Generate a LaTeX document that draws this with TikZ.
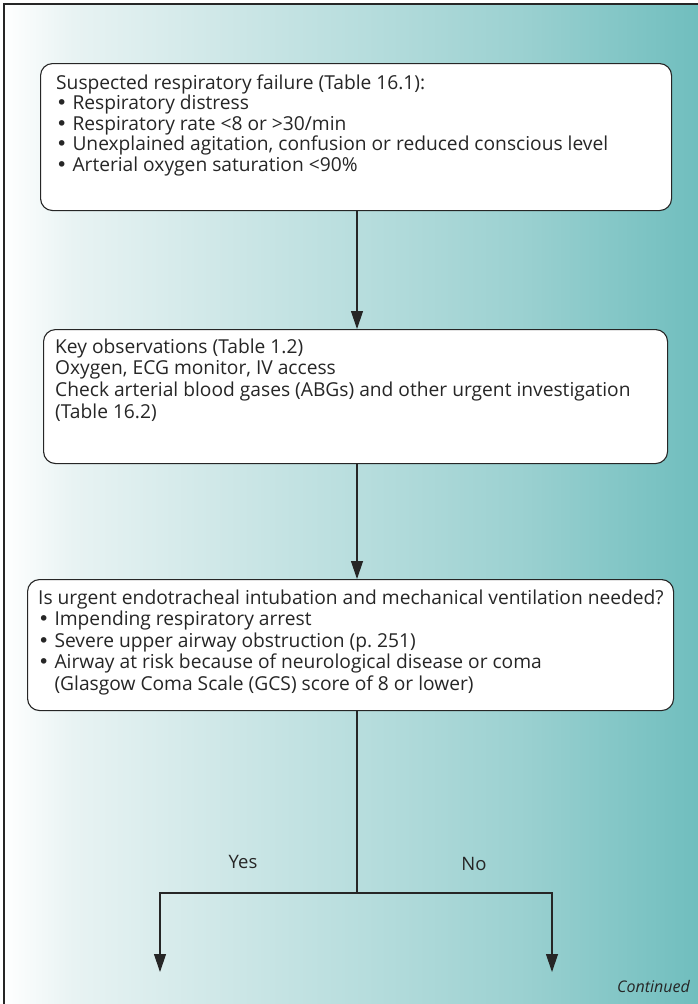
\documentclass[tikz,border=0pt]{standalone}
\usepackage{fontspec}
\setmainfont{Open Sans}
\newfontfamily\symfont{DejaVu Sans}
\usetikzlibrary{arrows.meta}

% background wash: white on the left fading into teal on the right
\pgfdeclarehorizontalshading{wash}{100bp}{%
  color(0bp)=(white);
  color(25bp)=(white);
  color(30bp)=(rgb,255:red,232;green,243;blue,243);
  color(40bp)=(rgb,255:red,208;green,232;blue,232);
  color(50bp)=(rgb,255:red,185;green,222;blue,222);
  color(62bp)=(rgb,255:red,156;green,209;blue,209);
  color(75bp)=(rgb,255:red,112;green,190;blue,190);
  color(100bp)=(rgb,255:red,112;green,190;blue,190)}

\tikzset{
  stepbox/.style={draw=black!85, line width=1.1pt, fill=white,
    rounded corners=12pt, inner sep=0pt, anchor=north west},
  boxtext/.style={inner sep=0pt, anchor=base west, text=black!85},
  flow/.style={draw=black!85, line width=1.2pt,
    -{Triangle[length=18pt,width=12pt]}},
  flowline/.style={draw=black!85, line width=1.2pt},
  label/.style={font=\fontsize{18.5}{21}\selectfont, text=black!85,
    inner sep=0pt, anchor=base},
}

% body text of a box, first line on the node's baseline
\newcommand{\lines}[2]{%
  \parbox[t]{650pt}{\fontsize{19.2}{#1}\selectfont\raggedright #2}}
% list bullet
\newcommand{\bul}{{\symfont\textbullet}\ }

\begin{document}
\begin{tikzpicture}[x=1pt,y=-1pt]
  \useasboundingbox (0,0) rectangle (698,1004);
  \shade[shading=wash] (4,4) rectangle (698,1004);
  \draw[black!85, line width=2pt] (4,1004) -- (4,4) -- (698,4);

  % boxes
  \node[stepbox, minimum width=631pt, minimum height=147pt] (b1) at (40,63) {};
  \node[stepbox, minimum width=624pt, minimum height=134pt] (b2) at (43,329) {};
  \node[stepbox, minimum width=646pt, minimum height=131pt] (b3) at (27,579) {};

  % their texts
  \node[boxtext] (t1) at (56,89) {\lines{20.5pt}{%
      Suspected respiratory failure (Table 16.1):\\
      \bul Respiratory distress\\
      \bul Respiratory rate <8 or >30/min\\
      \bul Unexplained agitation, confusion or reduced conscious level\\
      \bul Arterial oxygen saturation <90\%}};

  \node[boxtext] (t2) at (55,353) {\lines{21.7pt}{%
      Key observations (Table 1.2)\\
      Oxygen, ECG monitor, IV access\\
      Check arterial blood gases (ABGs) and other urgent investigation\\
      (Table 16.2)}};

  \node[boxtext] (t3) at (38,604) {\lines{21.5pt}{%
      Is urgent endotracheal intubation and mechanical ventilation needed?\\
      \bul Impending respiratory arrest\\
      \bul Severe upper airway obstruction (p.\ 251)\\
      \bul Airway at risk because of neurological disease or coma\\
      \phantom{\bul}(Glasgow Coma Scale (GCS) score of 8 or lower)}};

  % branch points
  \coordinate (split) at (357,893);
  \coordinate (yesend) at (160,972);
  \coordinate (noend) at (552,972);

  \draw[flow] (b1.south -| split) -- (b2.north -| split);
  \draw[flow] (b2.south -| split) -- (b3.north -| split);
  \draw[flowline] (b3.south -| split) -- (split);
  \draw[flow] (split) -| (yesend);
  \draw[flow] (split) -| (noend);

  \node[label] (yes) at (243,868) {Yes};
  \node[label] (no) at (474,870) {No};
  \node[label, font=\fontsize{16}{18}\selectfont\itshape, anchor=base east]
    (cont) at (690,992) {Continued};
\end{tikzpicture}
\end{document}
